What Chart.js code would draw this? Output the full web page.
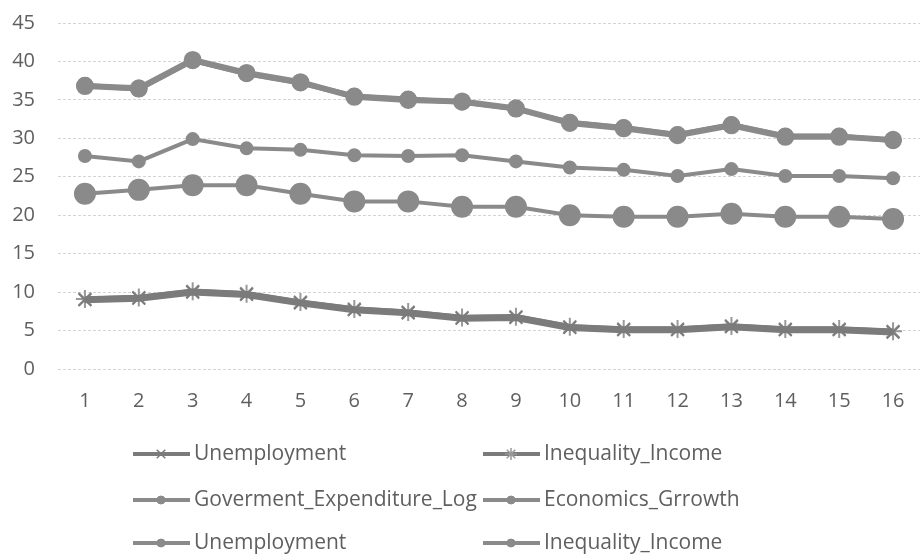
<!DOCTYPE html>
<html>
<head>
<meta charset="utf-8">
<script src="https://cdn.jsdelivr.net/npm/chart.js@4"></script>
<style>
  html, body { margin: 0; padding: 0; background: #fff; overflow: hidden; }
  #wrap { width: 922px; height: 554px; overflow: hidden; }
  #chart { display: block; }
</style>
</head>
<body>
<div id="wrap"><canvas id="chart" width="933" height="554"></canvas></div>
<script>
const years = ["1","2","3","4","5","6","7","8","9","10","11","12","13","14","15","16"];
const yTicks = [0, 5, 10, 15, 20, 25, 30, 35, 40, 45];

// bottom pair (x and star markers)
const unemploymentA = [9.0, 9.2, 10.0, 9.7, 8.6, 7.7, 7.3, 6.6, 6.7, 5.4, 5.1, 5.1, 5.5, 5.1, 5.1, 4.8];
const inequalityA = [9.1, 9.3, 10.1, 9.8, 8.7, 7.8, 7.4, 6.7, 6.8, 5.5, 5.2, 5.2, 5.6, 5.2, 5.2, 4.9];
// circle marker series
const govExpenditure = [27.7, 27.0, 29.9, 28.7, 28.5, 27.8, 27.7, 27.8, 27.0, 26.2, 25.9, 25.1, 26.0, 25.1, 25.1, 24.8];
const econGrowth = [22.8, 23.3, 23.9, 23.9, 22.8, 21.8, 21.8, 21.1, 21.1, 20.0, 19.8, 19.8, 20.2, 19.8, 19.8, 19.5];
const unemploymentB = [36.8, 36.5, 40.2, 38.5, 37.3, 35.4, 35.0, 34.8, 33.9, 32.0, 31.3, 30.4, 31.7, 30.2, 30.2, 29.8];
const inequalityB = [36.9, 36.4, 40.1, 38.4, 37.2, 35.5, 35.1, 34.7, 33.8, 32.1, 31.4, 30.5, 31.8, 30.3, 30.3, 29.7];

const seriesNames = ["Unemployment", "Inequality_Income", "Goverment_Expenditure_Log", "Economics_Grrowth", "Unemployment", "Inequality_Income"];

const grey = "#8a8a8a";
const darkGrey = "#7b7b7b";
const textColor = "#5f5f5f";
const fontFamily = "'Open Sans', sans-serif";
const font = { family: fontFamily, size: 20 };

function ds(label, data, opts) {
  return Object.assign({
    label: label,
    data: data,
    borderColor: grey,
    backgroundColor: grey,
    pointBorderColor: grey,
    pointBackgroundColor: grey,
    fill: false,
    tension: 0
  }, opts);
}

const datasets = [
  ds(seriesNames[0], unemploymentA, { borderColor: darkGrey, pointBorderColor: darkGrey, borderWidth: 7, pointStyle: "crossRot", pointRadius: 9, pointBorderWidth: 2 }),
  ds(seriesNames[1], inequalityA, { borderColor: darkGrey, pointBorderColor: "#999", borderWidth: 5, pointStyle: "star", pointRadius: 9, pointBorderWidth: 2 }),
  ds(seriesNames[2], govExpenditure, { borderWidth: 4, pointStyle: "circle", pointRadius: 5 }),
  ds(seriesNames[3], econGrowth, { borderWidth: 4, pointStyle: "circle", pointRadius: 9 }),
  ds(seriesNames[4], unemploymentB, { borderWidth: 6, pointStyle: "circle", pointRadius: 6 }),
  ds(seriesNames[5], inequalityB, { borderWidth: 5, pointStyle: "circle", pointRadius: 6 })
];

// two column legend drawn under the plot
const legendPlugin = {
  id: "twoColLegend",
  afterDraw(chart) {
    const ctx = chart.ctx;
    const cols = [133, 483];
    const rows = [454, 500, 543];
    ctx.save();
    chart.data.datasets.forEach((d, i) => {
      const x = cols[i % 2];
      const y = rows[Math.floor(i / 2)];
      ctx.strokeStyle = d.borderColor;
      ctx.lineWidth = 4;
      ctx.beginPath();
      ctx.moveTo(x, y);
      ctx.lineTo(x + 57, y);
      ctx.stroke();
      const r = d.pointStyle === "circle" ? 4 : 6;
      ctx.lineWidth = d.pointStyle === "circle" ? 1 : 1.5;
      ctx.fillStyle = d.pointBackgroundColor;
      ctx.strokeStyle = d.pointBorderColor;
      Chart.helpers.drawPoint(ctx, { pointStyle: d.pointStyle, radius: r, borderWidth: ctx.lineWidth }, x + 28, y);
      ctx.fillStyle = textColor;
      ctx.font = "21px " + fontFamily;
      ctx.textBaseline = "middle";
      ctx.textAlign = "left";
      ctx.fillText(d.label, x + 61, y);
    });
    ctx.restore();
  }
};

new Chart(document.getElementById("chart"), {
  type: "line",
  data: { labels: years, datasets: datasets },
  plugins: [legendPlugin],
  options: {
    responsive: false,
    animation: false,
    layout: { padding: { top: 23, bottom: 140, left: 0, right: 0 } },
    plugins: {
      legend: { display: false },
      tooltip: { enabled: false }
    },
    scales: {
      x: {
        offset: true,
        grid: { display: false, drawTicks: false },
        border: { display: false },
        ticks: { color: textColor, font: font, padding: 20, maxRotation: 0 },
        afterFit(scale) { scale.height = 45; }
      },
      y: {
        min: 0,
        max: 45,
        afterBuildTicks(scale) { scale.ticks = yTicks.map(v => ({ value: v })); },
        grid: { color: "#d4d4d4", lineWidth: 1, drawTicks: false },
        border: { display: false, dash: [3, 2] },
        ticks: { color: textColor, font: font, padding: 23 },
        afterFit(scale) {
          scale.width = 58;
          scale.paddingTop = 0;
          scale.paddingBottom = 0;
        }
      }
    }
  }
});
</script>
</body>
</html>
